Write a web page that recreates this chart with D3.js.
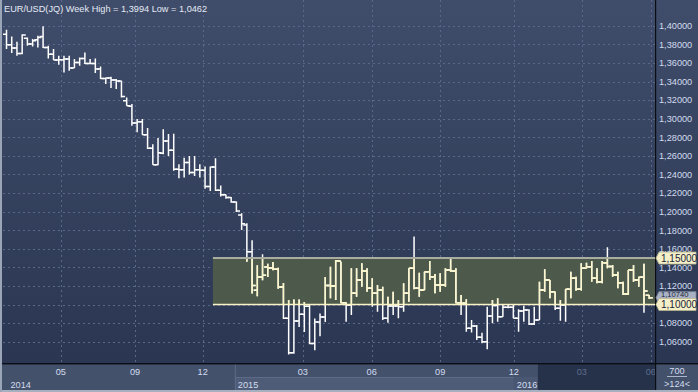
<!DOCTYPE html>
<html><head><meta charset="utf-8">
<script src="https://cdn.jsdelivr.net/npm/d3@7"></script>
<style>
html,body{margin:0;padding:0;background:#2c3854;overflow:hidden;}
svg{display:block;font-family:"Liberation Sans",Arial,sans-serif;}
</style></head><body>
<svg id="c" width="698" height="392"></svg>
<script>
// ---- data (weekly EUR/USD bars) ----
const opens = [1.3910,1.3796,1.3760,1.3703,1.3867,1.3803,1.3849,1.3885,1.3767,1.3695,
1.3631,1.3634,1.3642,1.3545,1.3606,1.3649,1.3595,1.3595,1.3534,1.3434,
1.3437,1.3416,1.3405,1.3194,1.3133,1.2953,1.2968,1.2828,1.2681,1.2505,
1.2628,1.2761,1.2660,1.2455,1.2450,1.2528,1.2420,1.2450,1.2445,1.2270,
1.2481,1.2229,1.2182,1.2151,1.2103,1.1964,1.1856,1.1569,1.1153,1.1297,
1.1404,1.1394,1.1380,1.1189,1.0852,1.0480,1.0824,1.0895,1.0981,1.0580,
1.0813,1.0867,1.1204,1.1200,1.1469,1.1020,1.0995,1.1121,1.1264,1.1361,
1.1175,1.1121,1.1156,1.0852,1.0984,1.0984,1.0977,1.1121,1.1390,1.1175,
1.1156,1.1354,1.1300,1.1210,1.1210,1.1372,1.1361,1.1020,1.1013,1.0744,
1.0770,1.0647,1.0600,1.0877,1.0990,1.0869,1.0970,1.0970,1.0852,1.0930,
1.0941,1.0791,1.0834,1.1156,1.1264,1.1138,1.0960,1.0995,1.1164,1.1282,
1.1164,1.1390,1.1407,1.1282,1.1246,1.1450,1.1410,1.1318,1.1235,1.1113,
1.1372,1.1264,1.1293,1.1100];
const highs = [1.3957,1.3885,1.3828,1.3910,1.3875,1.3857,1.3892,1.3994,1.3785,1.3749,
1.3677,1.3677,1.3677,1.3642,1.3659,1.3713,1.3642,1.3649,1.3563,1.3444,
1.3452,1.3427,1.3409,1.3229,1.3158,1.2996,1.2996,1.2900,1.2724,1.2792,
1.2886,1.2835,1.2838,1.2510,1.2581,1.2600,1.2599,1.2510,1.2485,1.2485,
1.2574,1.2282,1.2185,1.2157,1.2110,1.1982,1.1874,1.1691,1.1422,1.1541,
1.1440,1.1458,1.1397,1.1232,1.1049,1.1053,1.1053,1.1028,1.1000,1.0849,
1.0903,1.1297,1.1407,1.1479,1.1461,1.1025,1.1390,1.1390,1.1444,1.1390,
1.1282,1.1210,1.1192,1.1084,1.1138,1.1049,1.1229,1.1390,1.1731,1.1343,
1.1354,1.1469,1.1329,1.1336,1.1390,1.1498,1.1390,1.1103,1.1056,1.0834,
1.0780,1.0697,1.0977,1.1049,1.1067,1.0995,1.0995,1.0995,1.0949,1.0984,
1.0950,1.0977,1.1246,1.1379,1.1264,1.1138,1.1049,1.1164,1.1354,1.1300,
1.1444,1.1450,1.1469,1.1390,1.1469,1.1616,1.1426,1.1354,1.1246,1.1372,
1.1426,1.1300,1.1440,1.1100];
const lows = [1.3749,1.3706,1.3677,1.3695,1.3785,1.3778,1.3767,1.3760,1.3649,1.3631,
1.3581,1.3498,1.3516,1.3545,1.3570,1.3588,1.3588,1.3491,1.3427,1.3373,
1.3330,1.3319,1.3229,1.3140,1.2925,1.2853,1.2828,1.2674,1.2505,1.2500,
1.2617,1.2600,1.2440,1.2360,1.2366,1.2400,1.2384,1.2366,1.2247,1.2223,
1.2223,1.2164,1.2139,1.2096,1.1996,1.1802,1.1461,1.1118,1.1089,1.1261,
1.1297,1.1368,1.1171,1.0845,1.0462,1.0470,1.0759,1.0705,1.0573,1.0508,
1.0659,1.0813,1.1067,1.1049,1.1013,1.0815,1.0887,1.1084,1.1192,1.1138,
1.0977,1.0923,1.0834,1.0805,1.0887,1.0852,1.0923,1.1031,1.1164,1.1084,
1.1156,1.1264,1.1121,1.1138,1.1192,1.1354,1.1013,1.0887,1.0708,1.0700,
1.0618,1.0583,1.0518,1.0798,1.0815,1.0869,1.0960,1.0852,1.0708,1.0815,
1.0780,1.0780,1.0834,1.1138,1.1067,1.0941,1.0826,1.0815,1.1067,1.1149,
1.1150,1.1390,1.1246,1.1229,1.1229,1.1390,1.1300,1.1175,1.1103,1.1103,
1.1246,1.1192,1.0912,1.1060];
const closes = [1.3796,1.3760,1.3703,1.3900,1.3803,1.3839,1.3875,1.3767,1.3695,1.3631,
1.3634,1.3642,1.3545,1.3606,1.3649,1.3595,1.3595,1.3534,1.3434,1.3437,
1.3416,1.3405,1.3240,1.3140,1.2953,1.2968,1.2828,1.2681,1.2505,1.2634,
1.2761,1.2660,1.2455,1.2450,1.2528,1.2420,1.2450,1.2445,1.2270,1.2481,
1.2229,1.2182,1.2151,1.2103,1.2006,1.1870,1.1569,1.1205,1.1297,1.1315,
1.1394,1.1380,1.1189,1.0852,1.0480,1.0824,1.0895,1.0981,1.0580,1.0813,
1.0867,1.1204,1.1200,1.1469,1.1020,1.0995,1.1121,1.1264,1.1361,1.1175,
1.1121,1.1156,1.0852,1.0984,1.0984,1.0977,1.1121,1.1390,1.1175,1.1156,
1.1354,1.1300,1.1210,1.1210,1.1372,1.1361,1.1020,1.1013,1.0744,1.0770,
1.0647,1.0600,1.0877,1.0990,1.0869,1.0970,1.0970,1.0852,1.0930,1.0941,
1.0791,1.0834,1.1156,1.1264,1.1138,1.0960,1.0995,1.1164,1.1282,1.1164,
1.1390,1.1407,1.1282,1.1246,1.1450,1.1410,1.1318,1.1235,1.1113,1.1372,
1.1264,1.1293,1.1146,1.1074];

const priceTicks = [1.06,1.08,1.10,1.12,1.14,1.16,1.18,1.20,1.22,1.24,1.26,1.28,1.30,1.32,1.34,1.36,1.38,1.40];
const monthTickPos = [10.4, 24.6, 37.55, 56.7, 69.9, 83.0, 97.1, 110.1, 123.3];   // bar-index positions
const monthTickLabels = ["05","09","12","03","06","09","12","03","06"];
const yearLabels = ["2014","2015","2016"];
const yearStartPos = [-0.6, 43.7, 97.1];
const futureStartPos = 101.7;
const bandLevels = [1.15, 1.10];
const bandStartPos = 39.5;
const lastPrice = 1.1074;
const titleText = "EUR/USD(JQ) Week High = 1,3994 Low = 1,0462";
const zoomText = "700";
const countText = ">124<";

// ---- layout ----
const W = 698, H = 392;
const PL = 3, PR = 655, PT = 0, PB = 363;
const N = closes.length;

const x = d3.scaleLinear().domain([0, N - 1]).range([6.5, 649.2]);
const y = d3.scaleLinear().domain([1.06, 1.40]).range([341.7, 25.8]);
const fmt = v => d3.format(".5f")(v).replace(".", ",");

const svg = d3.select("#c");
const defs = svg.append("defs");
const g1 = defs.append("linearGradient").attr("id","bg").attr("x1",0).attr("y1",0).attr("x2",0).attr("y2",1);
g1.append("stop").attr("offset","0").attr("stop-color","#404d6a");
g1.append("stop").attr("offset","1").attr("stop-color","#2a3652");
defs.append("clipPath").attr("id","plotClip").append("rect")
  .attr("x",PL).attr("y",PT).attr("width",PR-PL).attr("height",PB-PT);
defs.append("clipPath").attr("id","bandClip").append("rect")
  .attr("x",x(bandStartPos)).attr("y",y(bandLevels[0]))
  .attr("width",PR-x(bandStartPos)).attr("height",y(bandLevels[1])-y(bandLevels[0]));

// background
svg.append("rect").attr("x",0).attr("y",0).attr("width",W).attr("height",PB).attr("fill","url(#bg)");
svg.append("rect").attr("x",0).attr("y",0).attr("width",2).attr("height",H).attr("fill","#9aa5b8");

// grid
const grid = svg.append("g").attr("clip-path","url(#plotClip)")
  .attr("stroke","#596889").attr("stroke-width",1).attr("stroke-dasharray","2,3");
grid.selectAll("line.h").data(priceTicks).join("line").attr("class","h")
  .attr("x1",PL).attr("x2",PR).attr("y1",d=>Math.round(y(d))+0.5).attr("y2",d=>Math.round(y(d))+0.5);
grid.selectAll("line.v").data(monthTickPos).join("line").attr("class","v")
  .attr("y1",PT).attr("y2",PB).attr("x1",d=>Math.round(x(d))+0.5).attr("x2",d=>Math.round(x(d))+0.5);

// band fill
svg.append("rect").attr("x",x(bandStartPos)).attr("y",y(bandLevels[0]))
  .attr("width",PR-x(bandStartPos)).attr("height",y(bandLevels[1])-y(bandLevels[0]))
  .attr("fill","#4d594b");

// bars
const barPath = i => {
  const xi = x(i);
  return `M${xi},${y(highs[i])}V${y(lows[i])}M${xi-3.6},${y(opens[i])}H${xi}M${xi},${y(closes[i])}H${xi+3.6}`;
};
const idx = d3.range(N);
svg.append("g").attr("clip-path","url(#plotClip)")
  .selectAll("path").data(idx).join("path")
  .attr("d",barPath).attr("fill","none").attr("stroke","#ffffff").attr("stroke-width",1.5);
svg.append("g").attr("clip-path","url(#bandClip)")
  .selectAll("path").data(idx).join("path")
  .attr("d",barPath).attr("fill","none").attr("stroke","#fbf6cc").attr("stroke-width",1.5);

// band lines
svg.append("line").attr("x1",x(bandStartPos)).attr("x2",PR).attr("y1",y(bandLevels[0])).attr("y2",y(bandLevels[0]))
  .attr("stroke","#a9aca0").attr("stroke-width",2);
svg.append("line").attr("x1",x(bandStartPos)).attr("x2",PR).attr("y1",y(bandLevels[1])).attr("y2",y(bandLevels[1]))
  .attr("stroke","#fbf3c4").attr("stroke-width",1.6);

// title
svg.append("text").attr("x",4).attr("y",12).attr("fill","#e4eaf5").attr("font-size",9.2).text(titleText);

// right axis (labels fully covered by a level tag are not drawn)
svg.append("rect").attr("x",PR).attr("y",0).attr("width",1.2).attr("height",H).attr("fill","#0a0d14");
const visibleTicks = priceTicks.filter(t => bandLevels.every(b => Math.abs(y(t) - y(b)) > 4));
svg.selectAll("text.ytick").data(visibleTicks).join("text").attr("class","ytick")
  .attr("x",659).attr("y",d=>y(d)+3.3).attr("fill","#d2dbee").attr("font-size",9.2).text(fmt);

// tags
function tag(val, bg, fg, stroke, fontSize, dy){
  const yc = y(val), h = 12, x0 = PR + 1, x1 = 659, x2 = 696;
  const gg = svg.append("g");
  gg.append("path").attr("d",`M${x0},${yc}L${x1},${yc-h/2}H${x2}V${yc+h/2}H${x1}Z`)
    .attr("fill",bg).attr("stroke",stroke).attr("stroke-width",0.8);
  gg.append("text").attr("x",661).attr("y",yc+dy).attr("fill",fg).attr("font-size",fontSize).text(fmt(val));
}
// last-price tag: mostly hidden behind the 1,10000 tag, as in the source
tag(lastPrice, "#a9b2c4", "#1c2538", "#7d879b", 7.6, -0.8);
tag(bandLevels[0], "#f3efc8", "#1c2538", "#b9b48e", 10, 3.6);
tag(bandLevels[1], "#f3efc8", "#1c2538", "#b9b48e", 10, 3.6);

// bottom axis
const ax = svg.append("g");
ax.append("rect").attr("x",0).attr("y",PB).attr("width",W).attr("height",H-PB).attr("fill","#44516b");
ax.append("rect").attr("x",x(yearStartPos[1])).attr("y",377).attr("width",x(yearStartPos[2])-x(yearStartPos[1])).attr("height",13).attr("fill","#4f5c77");
ax.append("rect").attr("x",x(yearStartPos[2])).attr("y",377).attr("width",x(futureStartPos)-x(yearStartPos[2])).attr("height",13).attr("fill","#4a5772");
ax.append("rect").attr("x",x(futureStartPos)).attr("y",PB).attr("width",PR-x(futureStartPos)).attr("height",H-PB-2).attr("fill","#26324a");
ax.append("rect").attr("x",x(yearStartPos[1])).attr("y",PB+1).attr("width",1).attr("height",H-PB-3).attr("fill","#5d6b88");
ax.append("rect").attr("x",x(yearStartPos[1])).attr("y",377).attr("width",x(yearStartPos[2])-x(yearStartPos[1])).attr("height",1).attr("fill","#5d6b88");
ax.append("rect").attr("x",0).attr("y",PB).attr("width",W).attr("height",1.4).attr("fill","#0a0d14");
ax.append("rect").attr("x",PR).attr("y",PB).attr("width",1.2).attr("height",H-PB).attr("fill","#0a0d14");
ax.append("rect").attr("x",0).attr("y",H-2).attr("width",W).attr("height",2).attr("fill","#a7b0bf");
ax.append("rect").attr("x",0).attr("y",PB).attr("width",2).attr("height",H-PB).attr("fill","#9aa5b8");

defs.append("clipPath").attr("id","axClip").append("rect").attr("x",0).attr("y",PB).attr("width",PR).attr("height",H-PB);
ax.append("g").attr("clip-path","url(#axClip)")
  .selectAll("text").data(monthTickPos).join("text")
  .attr("x",d=>x(d)).attr("y",375).attr("text-anchor","middle").attr("font-size",9.2)
  .attr("fill",d=>d > futureStartPos ? "#5d6d8c" : "#d2dcef")
  .text((d,i)=>monthTickLabels[i]);
ax.selectAll("text.yr").data(yearStartPos).join("text").attr("class","yr")
  .attr("x",(d,i)=> i===0 ? 10.5 : x(d)+3).attr("y",388).attr("font-size",9.2).attr("fill","#d2dcef")
  .text((d,i)=>yearLabels[i]);

// zoom box
ax.append("text").attr("x",677).attr("y",373.5).attr("text-anchor","middle").attr("font-size",9.2).attr("fill","#d2dcef").text(zoomText);
ax.append("rect").attr("x",667).attr("y",376).attr("width",20).attr("height",0.8).attr("fill","#c6d0e4");
ax.append("text").attr("x",677).attr("y",386.5).attr("text-anchor","middle").attr("font-size",9.2).attr("fill","#d2dcef").text(countText);
</script>
</body></html>
